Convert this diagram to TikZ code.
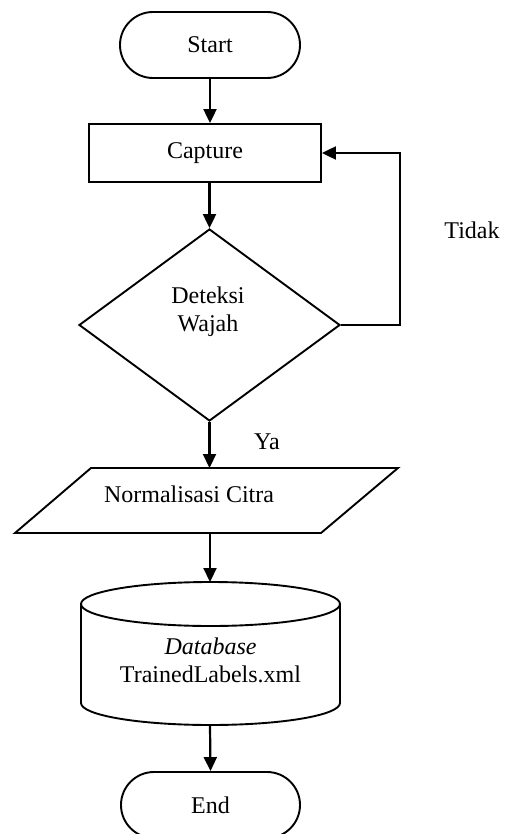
\documentclass[tikz,border=0pt]{standalone}
\usepackage{fontspec}
\setmainfont{Liberation Serif}
\usetikzlibrary{shapes.geometric,arrows.meta}
\begin{document}
\begin{tikzpicture}[x=1pt,y=1pt,
  font=\fontsize{24}{28}\selectfont,
  shapeline/.style={draw=black,line width=1.9pt},
  terminal/.style={shapeline,rectangle,rounded corners=33pt,minimum width=180pt,minimum height=66pt,inner sep=0pt},
  processbox/.style={shapeline,rectangle,minimum width=232pt,minimum height=58pt,inner sep=0pt},
  decisionbox/.style={shapeline,diamond,minimum width=261pt,minimum height=192pt,inner sep=0pt},
  txt/.style={inner sep=0pt,align=center},
  flow/.style={draw=black,line width=2.2pt,-{Triangle[length=14pt,width=13pt]}}
]
\useasboundingbox[fill=white] (0,0) rectangle (508,-834);

% Start
\node[terminal] (start) at (210,-45) {Start};
% Capture
\node[processbox] (capture) at (205,-153) {Capture};
% Decision
\node[decisionbox] (deteksi) at (209.5,-325) {};
\node[txt] (deteksitxt) at (208,-312) {Deteksi\\Wajah};
% Normalisasi (parallelogram)
\draw[shapeline,line join=miter] (91,-468) -- (398,-468) -- (321,-533) -- (15,-533) -- cycle;
\coordinate (normtop) at (209.5,-468);
\coordinate (normbot) at (210,-533);
\node[txt] (normtxt) at (189,-494) {Normalisasi Citra};
% Database cylinder
\draw[shapeline] (210.5,-604) ellipse [x radius=129.5pt, y radius=22pt];
\draw[shapeline] (81,-604) -- (81,-703) arc[start angle=180,end angle=360,x radius=129.5pt,y radius=22pt] -- (340,-604);
\coordinate (dbtop) at (210,-582);
\coordinate (dbbot) at (210,-725);
\node[txt] (dbtxt) at (210.5,-660) {\textit{Database}\\TrainedLabels.xml};
% End
\node[terminal,minimum width=179pt] (end) at (210.5,-805) {End};

% Labels
\node[txt] (ya) at (267,-442) {Ya};
\node[txt] (tidak) at (472,-230) {Tidak};

% Connectors
\draw[flow] (start.south) -- (start.south |- capture.north);
\draw[flow] (deteksi.north |- capture.south) -- (deteksi.north);
\draw[flow] (deteksi.east) -- ++(59,0) |- (capture.east);
\draw[flow] (deteksi.south) -- (normtop);
\draw[flow] (normbot) -- (dbtop);
\draw[flow] (dbbot) -- (end.north);
\end{tikzpicture}
\end{document}
